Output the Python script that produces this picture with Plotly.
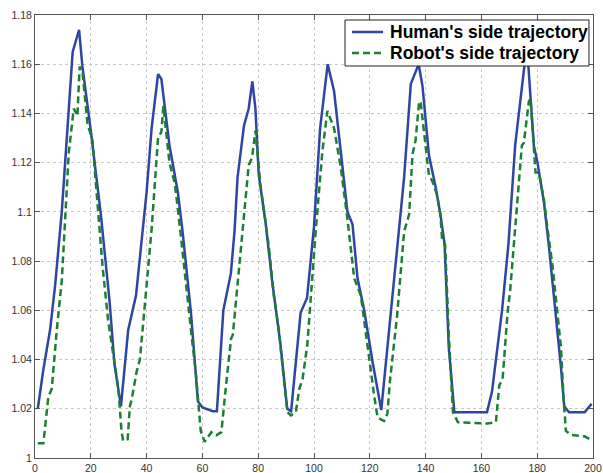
import plotly.graph_objects as go

# Human's side trajectory (solid blue)
human_x = [1, 3, 5.4, 7.2, 9.6, 12, 13.5, 15.8, 17, 20, 23.6, 26.7, 28.5, 30.8,
           33.4, 36.2, 38.5, 40, 41.8, 44.1, 45.3, 48.2, 51.2, 52.9, 55.9, 57.6, 58.4,
           60, 63.7, 65.2, 67.5, 70.2, 71.5, 72.6, 74.9, 76.6, 77.9, 79, 80.2, 82.6,
           85, 88, 90.4, 91.8, 95.2, 97.5, 100, 102.2, 104.9, 107.2, 109.6, 112, 113.8,
           115.6, 118, 121, 124.1, 125.6, 128, 130, 132.3, 134.7, 137.5, 138.9, 141.2,
           143.6, 145.3, 146.8, 148.3, 150.3, 162, 163.8, 167.4, 169.7, 172.1, 176.3,
           178.8, 180.1, 182.4, 184.2, 186.7, 188.5, 189.7, 191.4, 197, 199.5]
human_y = [1.020, 1.036, 1.052, 1.070, 1.100, 1.140, 1.165, 1.174, 1.159, 1.133, 1.099,
           1.064, 1.038, 1.021, 1.052, 1.066, 1.090, 1.108, 1.134, 1.156, 1.154, 1.127,
           1.108, 1.092, 1.059, 1.035, 1.023, 1.0205, 1.019, 1.019, 1.060, 1.075, 1.092,
           1.114, 1.135, 1.142, 1.153, 1.142, 1.115, 1.096, 1.072, 1.046, 1.020, 1.019,
           1.059, 1.065, 1.094, 1.134, 1.160, 1.149, 1.125, 1.100, 1.095, 1.073, 1.060,
           1.039, 1.0195, 1.037, 1.065, 1.090, 1.114, 1.152, 1.160, 1.151, 1.123, 1.110,
           1.099, 1.087, 1.045, 1.0186, 1.0186, 1.027, 1.060, 1.087, 1.127, 1.168, 1.127,
           1.120, 1.104, 1.086, 1.059, 1.037, 1.021, 1.0186, 1.0186, 1.022]

# Robot's side trajectory (dashed green)
robot_x = [1, 3, 4.8, 6, 7.8, 9.6, 12.1, 13.9, 15.2, 16, 17, 18.8, 20.6, 22.4, 24.2,
           26.2, 28.7, 29.9, 31, 31.6, 33.2, 34, 34.7, 36.4, 37.6, 39.4, 41.8, 44.1,
           45.3, 46, 47.1, 48.2, 50, 50.6, 52.4, 54.1, 55.9, 57.6, 58.8, 59.4, 60.8,
           63.2, 65, 66.8, 68.6, 70.3, 70.9, 72.7, 74.9, 76.6, 77.8, 79, 80.8, 83.8,
           85.6, 87.4, 89.2, 90.5, 91.7, 93.5, 94.7, 95.9, 97.6, 98.8, 100.6, 103,
           104.8, 107.2, 109.6, 112, 114.4, 116.8, 119.2, 121.6, 122.8, 125.1, 126.3,
           127.2, 129.8, 132.3, 134.1, 135.3, 136.4, 137.6, 138.2, 139.4, 140.6, 141.2,
           142.4, 144.1, 145.3, 145.9, 147, 148.3, 149.8, 151.6, 162.2, 165.2, 166.4,
           167.6, 169.4, 170.3, 172.7, 174.5, 175.2, 177, 177.6, 178.8, 179.4, 180.6,
           182.4, 183.6, 185.5, 188.5, 189.4, 190.3, 192.1, 197, 199.4]
robot_y = [1.006, 1.006, 1.025, 1.028, 1.052, 1.072, 1.124, 1.142, 1.139, 1.159, 1.157,
           1.136, 1.129, 1.104, 1.078, 1.056, 1.038, 1.028, 1.011, 1.007, 1.0076, 1.021,
           1.024, 1.035, 1.040, 1.063, 1.093, 1.130, 1.1325, 1.143, 1.1325, 1.120, 1.112,
           1.107, 1.089, 1.070, 1.052, 1.035, 1.021, 1.011, 1.0066, 1.0105, 1.0092,
           1.0105, 1.031, 1.0486, 1.050, 1.0717, 1.100, 1.119, 1.122, 1.133, 1.111,
           1.086, 1.066, 1.052, 1.032, 1.0186, 1.0173, 1.0186, 1.028, 1.032, 1.046,
           1.0645, 1.092, 1.1246, 1.141, 1.134, 1.118, 1.097, 1.073, 1.066, 1.045,
           1.025, 1.0165, 1.015, 1.018, 1.031, 1.058, 1.092, 1.099, 1.1234, 1.129,
           1.1438, 1.145, 1.134, 1.1207, 1.115, 1.1125, 1.107, 1.0989, 1.089, 1.0867,
           1.050, 1.0186, 1.0145, 1.014, 1.0146, 1.0295, 1.032, 1.0594, 1.068, 1.100,
           1.127, 1.128, 1.1448, 1.146, 1.127, 1.116, 1.116, 1.105, 1.094, 1.078,
           1.045, 1.025, 1.011, 1.0094, 1.0088, 1.0073]

series_names = ["Human's side trajectory", "Robot's side trajectory"]
series_colors = ["#2f45a3", "#1d7f33"]
robot_dash = "7px,4px"

x_ticks = [0, 20, 40, 60, 80, 100, 120, 140, 160, 180, 200]
y_ticks = [1.0, 1.02, 1.04, 1.06, 1.08, 1.1, 1.12, 1.14, 1.16, 1.18]
y_tick_labels = ["1", "1.02", "1.04", "1.06", "1.08", "1.1", "1.12", "1.14", "1.16", "1.18"]

fig = go.Figure()
fig.add_trace(go.Scatter(x=human_x, y=human_y, mode="lines", name=series_names[0],
                         line=dict(color=series_colors[0], width=2.5)))
fig.add_trace(go.Scatter(x=robot_x, y=robot_y, mode="lines", name=series_names[1],
                         line=dict(color=series_colors[1], width=2.5, dash=robot_dash)))

axis_common = dict(showline=True, linecolor="#555555", linewidth=1, mirror="ticks",
                   ticks="inside", ticklen=5, tickcolor="#555555",
                   showgrid=True, gridcolor="#c8c8c8", griddash="dot", gridwidth=1,
                   zeroline=False, ticklabeloverflow="allow", automargin=False,
                   tickfont=dict(family="Liberation Sans, Arial, sans-serif",
                                 size=10.5, color="#333333"))

fig.update_xaxes(range=[0, 200], tickvals=x_ticks, **axis_common)
fig.update_yaxes(range=[1.0, 1.18], tickvals=y_ticks, ticktext=y_tick_labels,
                 **axis_common)

# Compact MATLAB-style legend box in paper coordinates
box = dict(x0=0.5556, x1=0.9928, y0=0.8849, y1=0.9887)
rows_y = [0.9616, 0.9142]
key_x0, key_x1, text_x = 0.5681, 0.6237, 0.6326

shapes = [dict(type="rect", xref="paper", yref="paper", layer="above",
               x0=box["x0"], x1=box["x1"], y0=box["y0"], y1=box["y1"],
               fillcolor="white", line=dict(color="#222222", width=1))]
annotations = []
for i, (name, color) in enumerate(zip(series_names, series_colors)):
    shapes.append(dict(type="line", xref="paper", yref="paper", layer="above",
                       x0=key_x0, x1=key_x1, y0=rows_y[i], y1=rows_y[i],
                       line=dict(color=color, width=2.5,
                                 dash="solid" if i == 0 else robot_dash)))
    annotations.append(dict(xref="paper", yref="paper", x=text_x, y=rows_y[i],
                            xanchor="left", yanchor="middle", showarrow=False,
                            text="<b>" + name + "</b>",
                            font=dict(family="Liberation Sans, Arial, sans-serif",
                                      size=17.5, color="black")))

fig.update_layout(
    width=603, height=473,
    margin=dict(l=35, r=10, t=15, b=15),
    paper_bgcolor="white", plot_bgcolor="white",
    showlegend=False,
    shapes=shapes,
    annotations=annotations,
)

# Remove the default page margin so the 603x473 figure fills the window exactly
fig.write_html("out.html",
               config={"displayModeBar": False},
               post_script="document.body.style.margin='0';"
                           "document.body.style.overflow='hidden';")
